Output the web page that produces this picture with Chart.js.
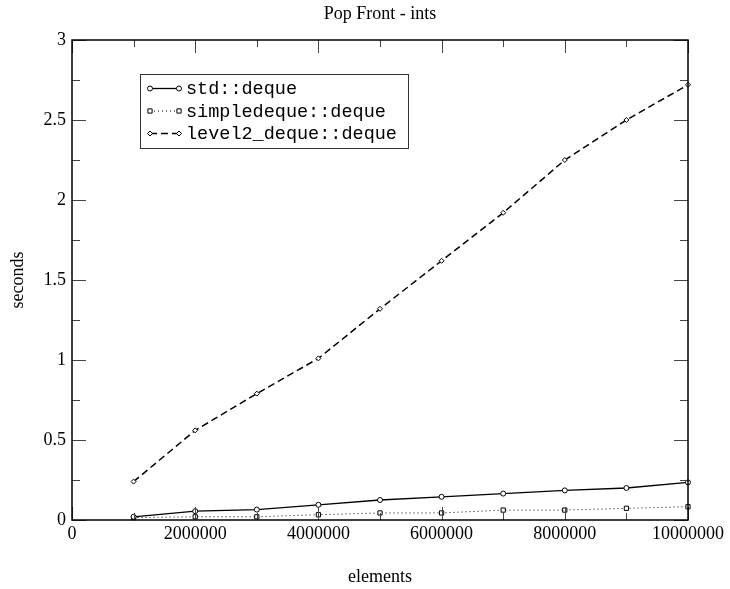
<!DOCTYPE html>
<html>
<head>
<meta charset="utf-8">
<title>Pop Front - ints</title>
<script src="https://cdn.jsdelivr.net/npm/chart.js@4.4.1/dist/chart.umd.min.js"></script>
<style>
  body { margin: 0; background: #fff; }
  #wrap { width: 730px; height: 589px; }
</style>
</head>
<body>
<div id="wrap"><canvas id="popFrontChart" width="730" height="589"></canvas></div>
<script>
// Data
const elements = [1000000, 2000000, 3000000, 4000000, 5000000, 6000000, 7000000, 8000000, 9000000, 10000000];
const stdDeque = [0.02, 0.055, 0.065, 0.095, 0.125, 0.145, 0.165, 0.185, 0.2, 0.235];
const simpleDeque = [0.015, 0.02, 0.02, 0.033, 0.044, 0.044, 0.062, 0.062, 0.073, 0.083];
const level2Deque = [0.24, 0.56, 0.79, 1.01, 1.32, 1.62, 1.92, 2.25, 2.5, 2.72];
const seriesLabels = ['std::deque', 'simpledeque::deque', 'level2_deque::deque'];

const serif = "'Liberation Serif', 'Times New Roman', serif";
const mono = "'Liberation Mono', 'Courier New', monospace";

function toPoints(values) {
    return elements.map((x, i) => ({ x: x, y: values[i] }));
}

// Frame with inward ticks on all four sides, plus the boxed legend
const framePlugin = {
    id: 'frame',
    afterDraw(chart) {
        const ctx = chart.ctx;
        const area = chart.chartArea;
        const xs = chart.scales.x;
        const ys = chart.scales.y;
        ctx.save();

        // ticks
        ctx.strokeStyle = '#444';
        ctx.lineWidth = 1;
        ctx.beginPath();
        for (let v = 0; v <= 10000000; v += 1000000) {
            const px = Math.round(xs.getPixelForValue(v)) + 0.5;
            const len = (v % 2000000 === 0) ? 13 : 7;
            ctx.moveTo(px, area.bottom); ctx.lineTo(px, area.bottom - len);
            ctx.moveTo(px, area.top); ctx.lineTo(px, area.top + len);
        }
        for (let i = 0; i <= 12; i++) {
            const v = i * 0.25;
            const py = Math.round(ys.getPixelForValue(v)) + 0.5;
            const len = (i % 2 === 0) ? 14 : 8;
            ctx.moveTo(area.left, py); ctx.lineTo(area.left + len, py);
            ctx.moveTo(area.right, py); ctx.lineTo(area.right - len, py);
        }
        ctx.stroke();

        // frame
        ctx.strokeStyle = '#000';
        ctx.lineWidth = 1.5;
        ctx.strokeRect(area.left, area.top, area.right - area.left, area.bottom - area.top);

        // legend box
        const lx = 140, ly = 74, lw = 268, lh = 74;
        ctx.fillStyle = '#fff';
        ctx.fillRect(lx, ly, lw, lh);
        ctx.strokeStyle = '#333';
        ctx.lineWidth = 1;
        ctx.strokeRect(lx + 0.5, ly + 0.5, lw, lh);

        ctx.font = '18.5px ' + mono;
        ctx.textBaseline = 'middle';
        ctx.textAlign = 'left';
        chart.data.datasets.forEach((ds, i) => {
            const y = 88.5 + i * 22.5;
            const x1 = 150, x2 = 179;
            ctx.strokeStyle = ds.borderColor;
            ctx.lineWidth = ds.borderWidth;
            ctx.setLineDash(ds.borderDash || []);
            ctx.beginPath();
            ctx.moveTo(x1, y); ctx.lineTo(x2, y);
            ctx.stroke();
            ctx.setLineDash([]);
            [x1, x2].forEach(px => {
                ctx.fillStyle = ds.pointBackgroundColor;
                ctx.strokeStyle = ds.borderColor;
                ctx.lineWidth = ds.pointBorderWidth;
                Chart.helpers.drawPoint(ctx, {
                    pointStyle: ds.pointStyle,
                    radius: ds.pointRadius,
                    borderWidth: ds.pointBorderWidth
                }, px, y);
            });
            ctx.fillStyle = '#000';
            ctx.fillText(ds.label, 186, y + 1);
        });
        ctx.restore();
    }
};

new Chart(document.getElementById('popFrontChart'), {
    type: 'line',
    data: {
        datasets: [
            {
                label: seriesLabels[0],
                data: toPoints(stdDeque),
                borderColor: '#000',
                borderWidth: 1.3,
                pointStyle: 'circle',
                pointRadius: 2.5,
                pointBorderWidth: 1,
                pointBackgroundColor: '#fff',
                clip: false
            },
            {
                label: seriesLabels[1],
                data: toPoints(simpleDeque),
                borderColor: '#000',
                borderWidth: 1,
                borderDash: [1, 3],
                pointStyle: 'rect',
                pointRadius: 3,
                pointBorderWidth: 1,
                pointBackgroundColor: '#fff',
                clip: false
            },
            {
                label: seriesLabels[2],
                data: toPoints(level2Deque),
                borderColor: '#000',
                borderWidth: 1.5,
                borderDash: [7, 4],
                pointStyle: 'rectRot',
                pointRadius: 2.5,
                pointBorderWidth: 1,
                pointBackgroundColor: '#fff',
                clip: false
            }
        ]
    },
    options: {
        responsive: false,
        animation: false,
        devicePixelRatio: 1,
        layout: { padding: { left: 0, right: 42, top: 0, bottom: 0 } },
        elements: { line: { tension: 0 } },
        plugins: {
            legend: { display: false },
            tooltip: { enabled: false },
            title: {
                display: true,
                fullSize: false,
                text: 'Pop Front - ints',
                color: '#000',
                font: { family: serif, size: 18, weight: 'normal' },
                padding: { top: 3, bottom: 15.4 }
            }
        },
        scales: {
            x: {
                type: 'linear',
                min: 0,
                max: 10000000,
                grid: { display: false, drawTicks: false },
                border: { display: false },
                ticks: {
                    stepSize: 2000000,
                    autoSkip: false,
                    maxRotation: 0,
                    padding: 3,
                    color: '#000',
                    font: { family: serif, size: 18 },
                    callback: function(value) { return String(value); }
                },
                title: {
                    display: true,
                    text: 'elements',
                    color: '#000',
                    font: { family: serif, size: 18 },
                    padding: { top: 0, bottom: 1 }
                },
                afterFit: function(scale) { scale.height = 69; }
            },
            y: {
                min: 0,
                max: 3,
                grid: { display: false, drawTicks: false },
                border: { display: false },
                ticks: {
                    stepSize: 0.5,
                    padding: 6,
                    color: '#000',
                    font: { family: serif, size: 18 },
                    callback: function(value) { return String(value); }
                },
                title: {
                    display: true,
                    text: 'seconds',
                    color: '#000',
                    font: { family: serif, size: 18 },
                    padding: { top: 7, bottom: 0 }
                },
                afterFit: function(scale) { scale.width = 72; }
            }
        }
    },
    plugins: [framePlugin]
});
</script>
</body>
</html>
